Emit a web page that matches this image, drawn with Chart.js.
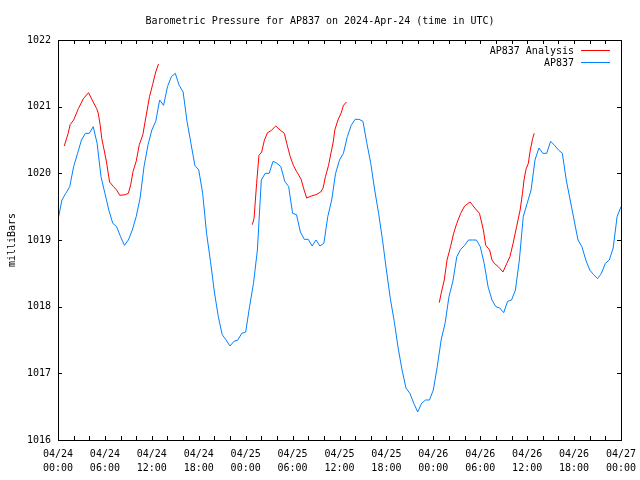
<!DOCTYPE html>
<html>
<head>
<meta charset="utf-8">
<script src="https://cdn.jsdelivr.net/npm/chart.js@4.4.0/dist/chart.umd.min.js"></script>
<style>
  html, body { margin: 0; padding: 0; background: #fff; }
  #wrap { width: 640px; height: 480px; }
</style>
</head>
<body>
<div id="wrap"><canvas id="chart" width="640" height="480"></canvas></div>
<script>
// ---- data (hours since 2024-04-24 00:00 UTC, pressure in mbar) ----
const chartTitle = 'Barometric Pressure for AP837 on 2024-Apr-24 (time in UTC)';
const yTitle = 'milliBars';
const seriesNames = ['AP837 Analysis', 'AP837'];

// x tick labels, one pair per 6 hours
const tickDates = ['04/24', '04/24', '04/24', '04/24', '04/25', '04/25', '04/25', '04/25',
                   '04/26', '04/26', '04/26', '04/26', '04/27'];
const tickTimes = ['00:00', '06:00', '12:00', '18:00', '00:00', '06:00', '12:00', '18:00',
                   '00:00', '06:00', '12:00', '18:00', '00:00'];

// station readings, every half hour starting at 0h
const stationStep = 0.5;
const stationPressure = [
  1019.3, 1019.6, 1019.7, 1019.8, 1020.1, 1020.3, 1020.5, 1020.6, 1020.6, 1020.7,
  1020.45, 1019.95, 1019.7, 1019.45, 1019.25, 1019.2, 1019.05, 1018.92, 1019.0, 1019.15,
  1019.35, 1019.63, 1020.1, 1020.42, 1020.65, 1020.78, 1021.1, 1021.02, 1021.3, 1021.45,
  1021.5, 1021.32, 1021.22, 1020.78, 1020.45, 1020.12, 1020.05, 1019.7, 1019.1, 1018.68,
  1018.22, 1017.85, 1017.58, 1017.5, 1017.41, 1017.48, 1017.5, 1017.6, 1017.62, 1018.0,
  1018.35, 1018.85, 1019.9, 1020.0, 1020.0, 1020.18, 1020.15, 1020.1, 1019.88, 1019.8,
  1019.4, 1019.38, 1019.12, 1019.01, 1019.01, 1018.91, 1019.0, 1018.91, 1018.95, 1019.35,
  1019.6, 1020.0, 1020.2, 1020.3, 1020.55, 1020.72, 1020.81, 1020.81, 1020.78, 1020.45,
  1020.15, 1019.75, 1019.4, 1019.0, 1018.55, 1018.12, 1017.78, 1017.38, 1017.05, 1016.78,
  1016.7, 1016.55, 1016.42, 1016.55, 1016.6, 1016.6, 1016.75, 1017.1, 1017.5, 1017.75,
  1018.15, 1018.38, 1018.75, 1018.86, 1018.92, 1019.0, 1019.0, 1019.0, 1018.9, 1018.65,
  1018.3, 1018.1, 1018.0, 1017.98, 1017.91, 1018.08, 1018.1, 1018.25, 1018.7, 1019.35,
  1019.55, 1019.75, 1020.2, 1020.38, 1020.3, 1020.3, 1020.48, 1020.42, 1020.35, 1020.3,
  1019.9, 1019.6, 1019.3, 1019.0, 1018.9, 1018.7, 1018.55, 1018.48, 1018.42, 1018.5,
  1018.65, 1018.7, 1018.88, 1019.35, 1019.5
];

// analysis runs (null breaks the line between runs)
const analysisHours = [
  0.8, 1.3, 1.55, 2, 2.6, 3.25, 3.9, 4.5, 4.95, 5.15, 5.4, 5.6, 5.9, 6.2, 6.6, 7.1, 7.5, 7.9,
  8.6, 9.0, 9.3, 9.6, 10.0, 10.4, 10.85, 11.25, 11.7, 12.1, 12.5, 12.85,
  18,
  24.85, 25.07, 25.4, 25.7, 26.05, 26.4, 26.8, 27.25, 27.85, 28.4, 28.95, 29.25, 29.7, 30.1,
  30.5, 31.1, 31.4, 31.8, 32.4, 33.0, 33.6, 33.9, 34.2, 34.6, 34.9, 35.2, 35.4, 35.8, 36.2,
  36.5, 36.9,
  43,
  48.76, 49.0, 49.4, 49.75, 50.2, 50.6, 51.0, 51.5, 52.0, 52.7, 53.3, 53.9, 54.4, 54.7, 55.2,
  55.5, 55.8, 56.3, 56.9, 57.4, 57.8, 58.2, 58.65, 59.1, 59.4, 59.6, 59.85, 60.15, 60.4, 60.7,
  60.9
];
const analysisPressure = [
  1020.41, 1020.6, 1020.73, 1020.8, 1020.97, 1021.12, 1021.21, 1021.07, 1020.97, 1020.9,
  1020.72, 1020.52, 1020.35, 1020.17, 1019.87, 1019.8, 1019.75, 1019.67, 1019.68, 1019.7,
  1019.83, 1020.03, 1020.18, 1020.43, 1020.58, 1020.85, 1021.15, 1021.33, 1021.52, 1021.64,
  null,
  1019.23, 1019.32, 1019.85, 1020.27, 1020.32, 1020.5, 1020.61, 1020.64, 1020.71, 1020.65,
  1020.6, 1020.45, 1020.25, 1020.12, 1020.03, 1019.91, 1019.78, 1019.63, 1019.66, 1019.68,
  1019.72, 1019.78, 1019.95, 1020.12, 1020.3, 1020.47, 1020.65, 1020.8, 1020.9, 1021.02,
  1021.07,
  null,
  1018.06, 1018.2, 1018.4, 1018.7, 1018.9, 1019.1, 1019.25, 1019.4, 1019.51, 1019.57,
  1019.48, 1019.4, 1019.15, 1018.92, 1018.85, 1018.7, 1018.65, 1018.6, 1018.52, 1018.65,
  1018.75, 1018.95, 1019.2, 1019.45, 1019.7, 1019.9, 1020.06, 1020.15, 1020.35, 1020.52,
  1020.6
];

const FONT = '"DejaVu Sans Mono", "Liberation Mono", monospace';
const RED = '#ff0000';
const BLUE = '#0080ff';
const TICK = 4;

// gnuplot style: full frame, inward ticks, title, y label, legend inside top right
const gnuplotFrame = {
  id: 'gnuplotFrame',
  afterDraw(chart) {
    const { ctx, chartArea: a, scales: { x, y } } = chart;
    ctx.save();
    ctx.strokeStyle = '#000';
    ctx.lineWidth = 1;
    ctx.beginPath();
    x.ticks.forEach(t => {
      const px = Math.round(x.getPixelForValue(t.value)) + 0.5;
      ctx.moveTo(px, a.bottom); ctx.lineTo(px, a.bottom - TICK);
      ctx.moveTo(px, a.top); ctx.lineTo(px, a.top + TICK);
    });
    y.ticks.forEach(t => {
      const py = Math.round(y.getPixelForValue(t.value)) + 0.5;
      ctx.moveTo(a.left, py); ctx.lineTo(a.left + TICK, py);
      ctx.moveTo(a.right, py); ctx.lineTo(a.right - TICK, py);
    });
    ctx.stroke();
    ctx.strokeRect(Math.round(a.left) + 0.5, Math.round(a.top) + 0.5,
                   Math.round(a.right - a.left), Math.round(a.bottom - a.top));

    ctx.fillStyle = '#000';
    ctx.font = '10px ' + FONT;
    ctx.textBaseline = 'alphabetic';
    ctx.textAlign = 'center';
    ctx.fillText(chartTitle, 320, 24);

    ctx.save();
    ctx.translate(15, (a.top + a.bottom) / 2);
    ctx.rotate(-Math.PI / 2);
    ctx.fillText(yTitle, 0, 0);
    ctx.restore();

    const colors = [RED, BLUE];
    seriesNames.forEach((name, i) => {
      const ly = 50 + i * 12;
      ctx.textAlign = 'right';
      ctx.fillStyle = '#000';
      ctx.fillText(name, 574, ly + 4);
      ctx.strokeStyle = colors[i];
      ctx.beginPath();
      ctx.moveTo(581, ly + 0.5);
      ctx.lineTo(610, ly + 0.5);
      ctx.stroke();
    });
    ctx.restore();
  }
};

new Chart(document.getElementById('chart'), {
  type: 'line',
  data: {
    datasets: [
      {
        label: seriesNames[0],
        data: analysisHours.map((h, i) => ({ x: h, y: analysisPressure[i] })),
        borderColor: RED,
        borderWidth: 1,
        pointRadius: 0,
        tension: 0,
        spanGaps: false
      },
      {
        label: seriesNames[1],
        data: stationPressure.map((v, i) => ({ x: i * stationStep, y: v })),
        borderColor: BLUE,
        borderWidth: 1,
        pointRadius: 0,
        tension: 0
      }
    ]
  },
  options: {
    responsive: false,
    animation: false,
    devicePixelRatio: 1,
    events: [],
    layout: { padding: { top: 40, right: 19, left: 0, bottom: 0 } },
    plugins: {
      legend: { display: false },
      title: { display: false },
      tooltip: { enabled: false }
    },
    scales: {
      x: {
        type: 'linear',
        min: 0,
        max: 72,
        grid: { display: false, drawTicks: false },
        border: { display: false },
        afterFit(scale) {
          scale.height = 40;
          scale.paddingLeft = 0;
          scale.paddingRight = 0;
        },
        ticks: {
          stepSize: 2,
          autoSkip: false,
          maxRotation: 0,
          minRotation: 0,
          padding: 7,
          color: '#000',
          font: { family: FONT, size: 10, lineHeight: 1.4 },
          callback: (v) => (v % 6 === 0 ? [tickDates[v / 6], tickTimes[v / 6]] : '')
        }
      },
      y: {
        min: 1016,
        max: 1022,
        grid: { display: false, drawTicks: false },
        border: { display: false },
        afterFit(scale) {
          scale.width = 58;
          scale.paddingTop = 0;
          scale.paddingBottom = 0;
        },
        ticks: {
          stepSize: 1,
          padding: 7,
          color: '#000',
          font: { family: FONT, size: 10 },
          callback: (v) => String(v)
        }
      }
    }
  },
  plugins: [gnuplotFrame]
});
</script>
</body>
</html>
